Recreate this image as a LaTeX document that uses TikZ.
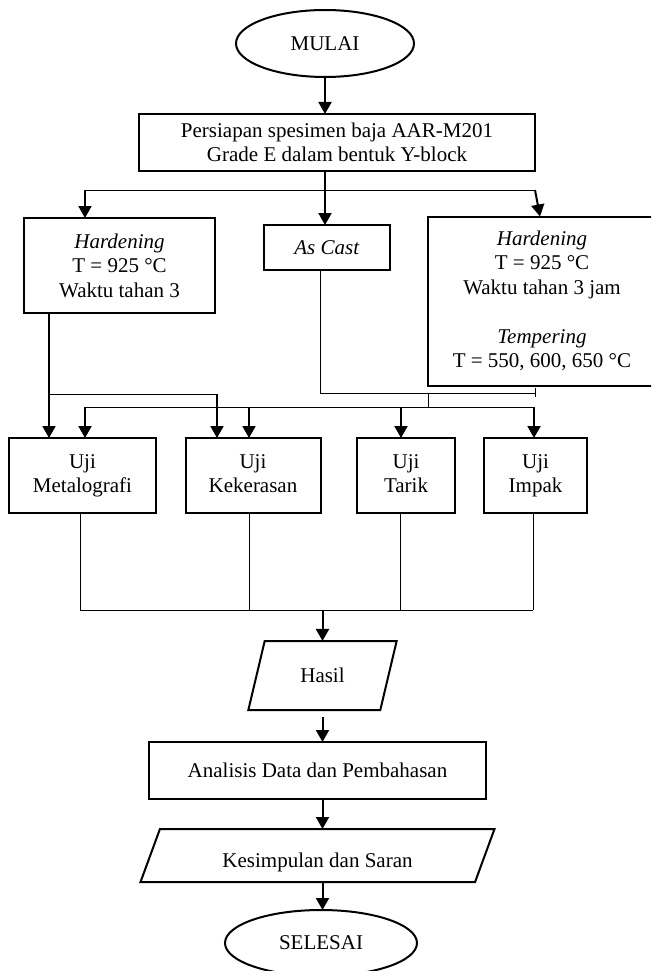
\documentclass[tikz,border=0pt]{standalone}
\usepackage{fontspec}
\setmainfont{Liberation Serif}
\usetikzlibrary{shapes.geometric,arrows.meta}
\begin{document}
\begin{tikzpicture}[x=1pt,y=-1pt,
  every node/.style={font=\fontsize{21}{24.5}\selectfont, inner sep=0pt, outer sep=0pt, align=center},
  box/.style={draw, line width=2pt, rectangle},
  term/.style={draw, line width=2pt, ellipse},
  io/.style={draw, line width=2pt, trapezium, trapezium stretches=true},
  arr/.style={line width=2pt, -{Triangle[width=13pt,length=12pt]}},
  bus/.style={line width=0.9pt}]
\clip (0,0) rectangle (651,971);
\node[term, minimum width=178pt, minimum height=67pt] (mulai) at (325,43.5) {MULAI};
\node[box, minimum width=396pt, minimum height=57pt] (siap) at (337,142.5) {Persiapan spesimen baja AAR-M201\\Grade E dalam bentuk Y-block};
\node[box, minimum width=191pt, minimum height=95pt] (hard) at (119.5,265.5) {\textit{Hardening}\\T = 925 °C\\Waktu tahan 3};
\node[box, minimum width=126pt, minimum height=45pt] (cast) at (327,247.5) {\textit{As Cast}};
\node[box, minimum width=228pt, minimum height=169pt] (temper) at (542,301) {\textit{Hardening}\\T = 925 °C\\Waktu tahan 3 jam\\[24.5pt]\textit{Tempering}\\T = 550, 600, 650 °C};

\node[box, minimum width=147pt, minimum height=75pt] (meta) at (82.5,475.5) {\strut Uji\\\strut Metalografi};
\node[box, minimum width=135pt, minimum height=75pt] (keras) at (253,475.5) {\strut Uji\\\strut Kekerasan};
\node[box, minimum width=98pt, minimum height=75pt] (tarik) at (406,475.5) {\strut Uji\\\strut Tarik};
\node[box, minimum width=103pt, minimum height=75pt] (impak) at (535.5,475.5) {\strut Uji\\\strut Impak};

\node[io, trapezium left angle=67, trapezium right angle=113, minimum width=149pt, minimum height=69pt] (hasil) at (322.5,675.5) {Hasil};
\node[box, minimum width=337pt, minimum height=57pt] (analisis) at (317.5,770.5) {Analisis Data dan Pembahasan};
\node[io, trapezium left angle=63, trapezium right angle=117, minimum width=355pt, minimum height=53pt, text height=23pt, text depth=0pt] (simpul) at (317.5,855.5) {Kesimpulan dan Saran};
\node[term, minimum width=192pt, minimum height=66pt] (selesai) at (321,943) {SELESAI};

\coordinate (bl) at (85,190);
\coordinate (br) at (535,190);
\coordinate (h1) at (49,394);
\coordinate (h2) at (217,394);
\coordinate (c1) at (320,393);
\coordinate (c2) at (535,393);
\coordinate (t1) at (428,393);
\coordinate (u1) at (85,407);
\coordinate (u4) at (534,407);
\coordinate (b1) at (80,610);

\draw[arr] (mulai.south) -- (mulai.south |- siap.north);
\draw[arr] (mulai.south |- siap.south) -- (mulai.south |- cast.north);
\draw[bus] (bl) -- (br);
\draw[arr] (bl) -- (bl |- hard.north);
\draw[arr] (br) -- ([xshift=5pt]br |- temper.north);

\draw[arr] (hard.south -| h1) -- (h1 |- meta.north);
\draw[bus] (h1) -- (h2);
\draw[arr] (h2) -- (h2 |- keras.north);

\draw[bus] (cast.south -| c1) |- (c2);
\draw[bus] ([yshift=5pt]c2) -- ([yshift=-4pt]c2);
\draw[bus] (t1) -- (t1 |- u1);
\draw[bus] (u1) -- (u4);
\draw[arr] (u1) -- (u1 |- meta.north);
\draw[arr] ([xshift=-4pt]keras.north |- u1) -- ([xshift=-4pt]keras.north);
\draw[arr] ([xshift=-5pt]tarik.north |- u1) -- ([xshift=-5pt]tarik.north);
\draw[arr] (u4) -- (u4 |- impak.north);

\draw[bus] ([xshift=-2.5pt]meta.south) -- ([xshift=-2.5pt]meta.south |- b1);
\draw[bus] ([xshift=-4pt]keras.south) -- ([xshift=-4pt]keras.south |- b1);
\draw[bus] ([xshift=-6pt]tarik.south) -- ([xshift=-6pt]tarik.south |- b1);
\draw[bus] ([xshift=-2.5pt]impak.south) -- ([xshift=-2.5pt]impak.south |- b1);
\draw[bus] (b1) -- ([xshift=-2.5pt]impak.south |- b1);
\draw[arr] (hasil.north |- b1) -- (hasil.north);

\draw[arr] ([yshift=-7pt]hasil.south) -- (hasil.south |- analisis.north);
\draw[arr] (hasil.south |- analisis.south) -- (hasil.south |- simpul.north);
\draw[arr] (hasil.south |- simpul.south) -- (hasil.south |- selesai.north);
\end{tikzpicture}
\end{document}
